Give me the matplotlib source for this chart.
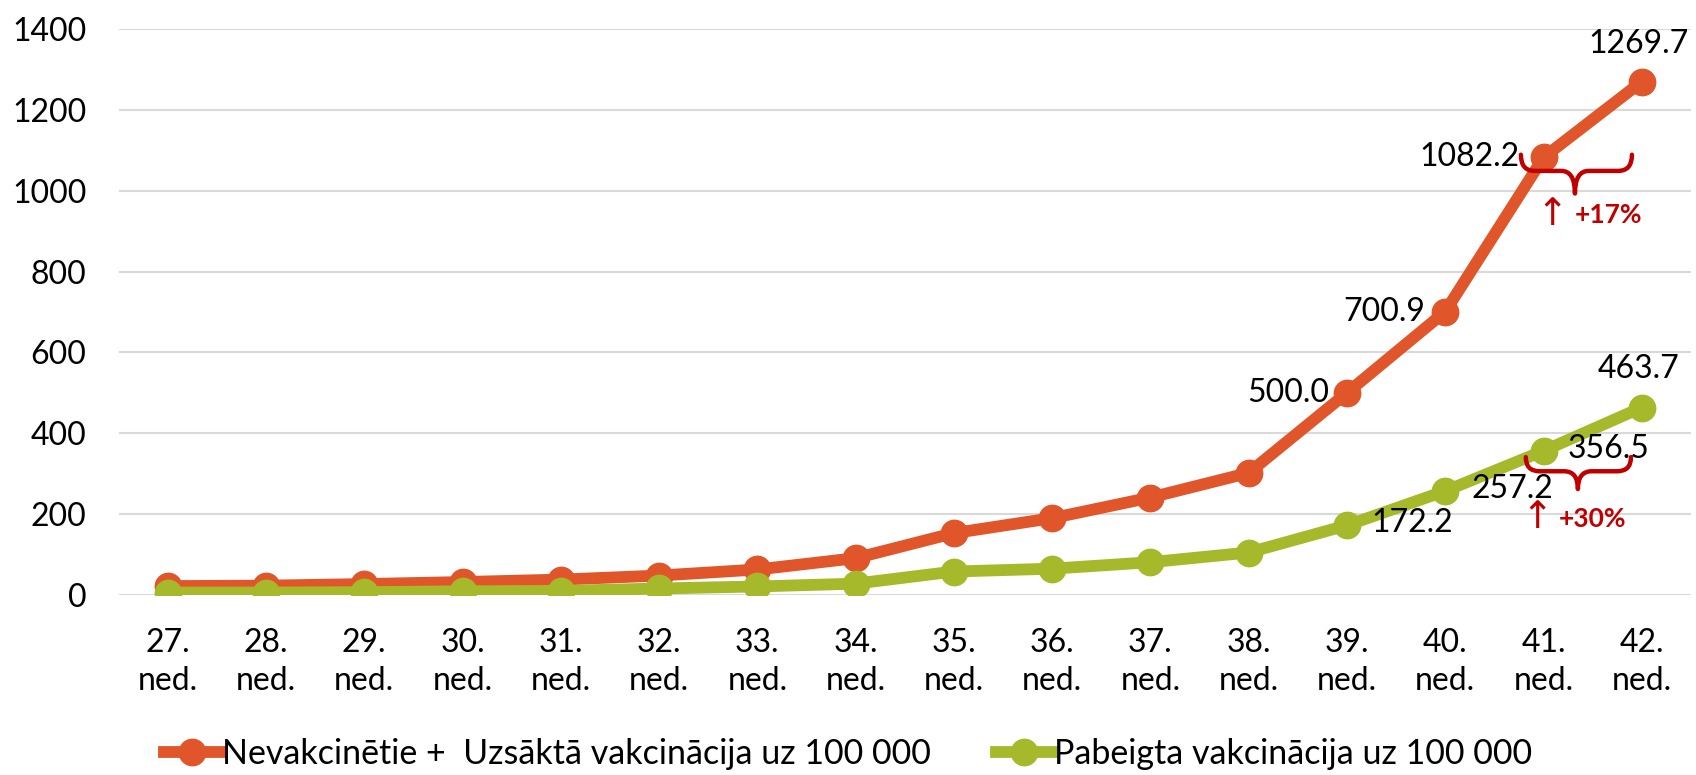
import matplotlib
matplotlib.use("Agg")
import matplotlib.pyplot as plt
from matplotlib.path import Path
from matplotlib.patches import PathPatch
from matplotlib.lines import Line2D

weeks = ["27.\nned.", "28.\nned.", "29.\nned.", "30.\nned.", "31.\nned.", "32.\nned.",
         "33.\nned.", "34.\nned.", "35.\nned.", "36.\nned.", "37.\nned.", "38.\nned.",
         "39.\nned.", "40.\nned.", "41.\nned.", "42.\nned."]
unvacc = [22, 23, 27, 32, 38, 48, 63, 91, 153, 190, 241, 302, 500.0, 700.9, 1082.2, 1269.7]
vacc = [6, 6, 7, 9, 10, 16, 21, 28, 58, 65, 81, 105, 172.2, 257.2, 356.5, 463.7]
series_names = ["Nevakcinētie +  Uzsāktā vakcinācija uz 100 000",
                "Pabeigta vakcinācija uz 100 000"]
yticks = [0, 200, 400, 600, 800, 1000, 1200, 1400]
pct_labels = ["+17%", "+30%"]

ORANGE = "#E0552A"
GREEN = "#A6B92B"
RED = "#C00000"
FONT = ["Lato", "DejaVu Sans"]
plt.rcParams["font.family"] = FONT

fig = plt.figure(figsize=(16.96, 7.75), dpi=100)
ax = fig.add_axes([0.0699, 0.2323, 0.9271, 0.7303])

x = list(range(len(weeks)))
ax.plot(x, unvacc, color=ORANGE, lw=8.5, marker="o", ms=19, solid_capstyle="round", zorder=3)
ax.plot(x, vacc, color=GREEN, lw=8.5, marker="o", ms=19, solid_capstyle="round", zorder=3)

ax.set_xlim(-0.5, len(weeks) - 0.5)
ax.set_ylim(0, 1400)
ax.set_yticks(yticks)
ax.set_yticklabels([str(v) for v in yticks])
ax.set_xticks(x)
ax.set_xticklabels(weeks, linespacing=1.3)
ax.tick_params(axis="both", length=0, labelsize=23, colors="black")
ax.tick_params(axis="y", pad=23)
ax.tick_params(axis="x", pad=24)
ax.grid(axis="y", color="#D9D9D9", lw=1.5)
ax.set_axisbelow(True)
for s in ax.spines.values():
    s.set_visible(False)

# data labels (last four weeks)
def lab(i, vals, dx, dy, ha):
    ax.annotate(f"{vals[i]:.1f}", (i, vals[i]), xytext=(dx, dy), textcoords="offset pixels",
                ha=ha, va="center", fontsize=23, color="black", zorder=4)

n = len(weeks)
lab(n - 1, unvacc, -3, 38, "center")
lab(n - 2, unvacc, -24, 0, "right")
lab(n - 3, unvacc, -20, 0, "right")
lab(n - 4, unvacc, -18, 0, "right")
lab(n - 1, vacc, -3, 39, "center")
lab(n - 2, vacc, 24, 2, "left")
lab(n - 3, vacc, 26, 2, "left")
lab(n - 4, vacc, 24, 2, "left")

def brace(x0, x1, xc, ytop, yline, ybot, r):
    verts = [(x0, ytop), (x0, yline), (x0 + r, yline), (xc - r, yline), (xc, yline), (xc, ybot),
             (xc, yline), (xc + r, yline), (x1 - r, yline), (x1, yline), (x1, ytop)]
    codes = [Path.MOVETO, Path.CURVE3, Path.CURVE3, Path.LINETO, Path.CURVE3, Path.CURVE3,
             Path.CURVE3, Path.CURVE3, Path.LINETO, Path.CURVE3, Path.CURVE3]
    ax.add_patch(PathPatch(Path(verts, codes), fill=False, edgecolor=RED, lw=3.2,
                           capstyle="round", joinstyle="round", zorder=5))

brace(13.77, 14.9, 14.32, 1089, 1049, 993, 0.14)
brace(13.82, 14.89, 14.35, 341, 306, 262, 0.14)

ax.text(14.09, 941, "↑", fontsize=27, color=RED, ha="center", va="center", family="DejaVu Sans", zorder=5)
ax.text(14.32, 941, pct_labels[0], fontsize=19, color=RED, ha="left", va="center", weight="bold", zorder=5)
ax.text(13.93, 190, "↑", fontsize=27, color=RED, ha="center", va="center", family="DejaVu Sans", zorder=5)
ax.text(14.16, 187, pct_labels[1], fontsize=19, color=RED, ha="left", va="center", weight="bold", zorder=5)

handles = [Line2D([], [], color=ORANGE, lw=8.5, marker="o", ms=19),
           Line2D([], [], color=GREEN, lw=8.5, marker="o", ms=19)]
fig.legend(handles, series_names, loc="center", bbox_to_anchor=(0.5, 0.027), ncol=2, frameon=False,
           fontsize=24.5, handlelength=1.65, handletextpad=0.05, columnspacing=1.9)

fig.savefig("out.png", dpi=100)
